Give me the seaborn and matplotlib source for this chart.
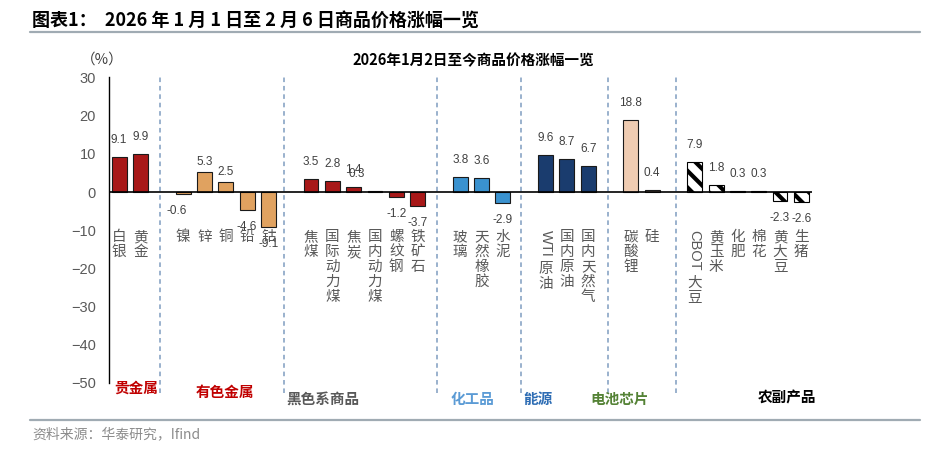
import matplotlib
matplotlib.use("Agg")
import pandas as pd
import seaborn as sns
import matplotlib.pyplot as plt
import matplotlib.transforms as mtransforms

# -------------------------------
# Data
# -------------------------------
group_names = ["贵金属", "有色金属", "黑色系商品", "化工品", "能源", "电池芯片", "农副产品"]
group_sizes = [2, 5, 6, 3, 3, 2, 6]

names = ["白银", "黄金",
         "镍", "锌", "铜", "铅", "钴",
         "焦煤", "国际动力煤", "焦炭", "国内动力煤", "螺纹钢", "铁矿石",
         "玻璃", "天然橡胶", "水泥",
         "WTI原油", "国内原油", "国内天然气",
         "碳酸锂", "硅",
         "CBOT大豆", "黄玉米", "化肥", "棉花", "黄大豆", "生猪"]
values = [9.1, 9.9,
          -0.6, 5.3, 2.5, -4.6, -9.1,
          3.5, 2.8, 1.4, 0.3, -1.2, -3.7,
          3.8, 3.6, -2.9,
          9.6, 8.7, 6.7,
          18.8, 0.4,
          7.9, 1.8, 0.3, 0.3, -2.3, -2.6]
y_ticks = [30, 20, 10, 0, -10, -20, -30, -40, -50]

# -------------------------------
# Style
# -------------------------------
bar_colors = {"贵金属": "#C00000", "有色金属": "#F5A24B", "黑色系商品": "#C00000",
              "化工品": "#2196E8", "能源": "#0C3A7C", "电池芯片": "#F9CBA8",
              "农副产品": "white"}
group_text_colors = {"贵金属": "#C00000", "有色金属": "#C00000", "黑色系商品": "#595959",
                     "化工品": "#5B9BD5", "能源": "#2E6DB4", "电池芯片": "#548235",
                     "农副产品": "black"}
# where the group names sit (x in slots, y in pixels from top)
group_label_x = [0.82, 4.96, 9.56, 16.58, 19.66, 23.46, 31.33]
group_label_y = [388, 392, 399, 399, 399, 399, 398]
dividers = [1.9, 7.75, 14.9, 18.85, 22.95, 26.1]
label_dx = {"镍": -6, "国内动力煤": -18}

sns.set_style("white")
plt.rcParams["font.family"] = ["Noto Sans CJK SC", "DejaVu Sans"]
plt.rcParams["hatch.linewidth"] = 3.0
plt.rcParams["hatch.color"] = "black"

# build slots with a blank one between groups
rows, order, slot_x = [], [], []
k, pos = 0, 0
for gi, (g, n) in enumerate(zip(group_names, group_sizes)):
    if gi > 0:
        order.append(f"gap{gi}")
        pos += 1
    for _ in range(n):
        rows.append({"slot": names[k], "value": values[k], "group": g})
        order.append(names[k])
        slot_x.append(pos)
        pos += 1
        k += 1
df = pd.DataFrame(rows)

W, H = 940, 455
fig = plt.figure(figsize=(W / 100, H / 100), dpi=100)
ax = fig.add_axes([108.5 / W, 1 - 383 / H, (812 - 108.5) / W, (383 - 77.4) / H])

sns.barplot(data=df, x="slot", y="value", hue="group", order=order,
            hue_order=group_names, palette=bar_colors, dodge=False,
            width=0.7, edgecolor="#1a1a1a", linewidth=0.8, legend=False, ax=ax)

# hatch for agricultural products
for cont, g in zip(ax.containers, group_names):
    if g == "农副产品":
        for p in cont.patches:
            p.set_hatch("\\\\")
            p.set_edgecolor("black")

ax.set_xlim(-0.5, len(order) - 0.5)
ax.set_ylim(-50, 30)
ax.set_yticks(y_ticks)
ax.set_xticks([])
ax.set_xlabel("")
ax.set_ylabel("")
for s in ["top", "right", "bottom"]:
    ax.spines[s].set_visible(False)
ax.spines["left"].set_color("black")
ax.spines["left"].set_linewidth(1.0)
ax.tick_params(axis="y", direction="out", length=4, width=1, color="black",
               labelsize=10.5, labelcolor="#595959", pad=5)
for t in ax.get_yticklabels():
    t.set_family(["Liberation Sans", "DejaVu Sans"])
ax.axhline(0, color="black", lw=1.2, zorder=3)

# dashed dividers between groups
ax.vlines(dividers, -52.5, 30, colors="#7F9CC0", linestyles=(0, (3, 2.5)),
          lw=1.1, clip_on=False)

# value labels
for x, name, v, in zip(slot_x, names, values):
    g = df.loc[df["slot"] == name, "group"].iloc[0]
    up = 10 if g == "有色金属" else 17
    dy = up if v >= 0 else -17
    ax.annotate(f"{v:.1f}", xy=(x, v), xytext=(label_dx.get(name, 0), dy),
                textcoords="offset pixels", ha="center", va="center",
                fontsize=8.5, color="#404040",
                family=["Liberation Sans", "DejaVu Sans"])

# vertical category labels
renderer = fig.canvas.get_renderer()
for x, name in zip(slot_x, names):
    j = 0
    while j < len(name) and name[j].isascii():
        j += 1
    latin, cjk = name[:j], name[j:]
    start = 45
    if latin:
        t = ax.annotate(latin, xy=(x, 0), xytext=(0, -38), textcoords="offset pixels",
                        ha="center", va="top", rotation=-90, fontsize=10.5,
                        color="#595959", family=["Liberation Sans", "DejaVu Sans"])
        h = t.get_window_extent(renderer).height
        start = 38 + h + 12
    for ci, ch in enumerate(cjk):
        ax.annotate(ch, xy=(x, 0), xytext=(0, -(start + 15 * ci)),
                    textcoords="offset pixels", ha="center", va="center",
                    fontsize=10.5, color="#595959")

# group names under the chart
trans = mtransforms.blended_transform_factory(ax.transData, fig.transFigure)
for g, gx, gy in zip(group_names, group_label_x, group_label_y):
    ax.text(gx, 1 - gy / H, g, transform=trans, ha="center", va="center",
            fontsize=10.5, fontweight="bold", color=group_text_colors[g], clip_on=False)

# titles, frame lines, source
fig.text(32 / W, 1 - 20 / H, "图表1：  2026 年 1 月 1 日至 2 月 6 日商品价格涨幅一览",
         ha="left", va="center", fontsize=13, fontweight="bold", color="black")
fig.text(473 / W, 1 - 60 / H, "2026年1月2日至今商品价格涨幅一览", ha="center",
         va="center", fontsize=10.5, fontweight="bold", color="black")
fig.text(102 / W, 1 - 60 / H, "（%）", ha="center", va="center", fontsize=10.5,
         color="#404040")
fig.add_artist(plt.Line2D([30 / W, 920 / W], [1 - 32 / H, 1 - 32 / H],
                          color="#A0ABB3", lw=1.6))
fig.add_artist(plt.Line2D([30 / W, 920 / W], [1 - 420 / H, 1 - 420 / H],
                          color="#A0ABB3", lw=1.6))
fig.text(32 / W, 1 - 434 / H, "资料来源：华泰研究，Ifind", ha="left", va="center",
         fontsize=10, color="#8C8C8C")

fig.savefig("out.png", dpi=100)
